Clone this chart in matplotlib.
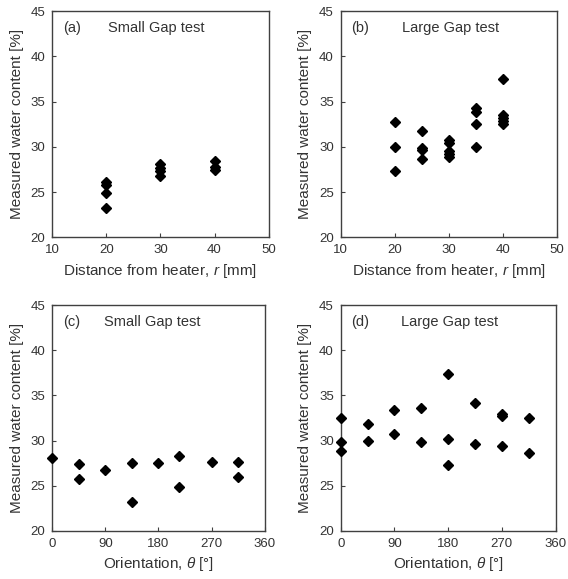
import matplotlib
matplotlib.use("Agg")
import matplotlib.pyplot as plt

plt.rcParams['font.family'] = ['Liberation Sans', 'DejaVu Sans']
plt.rcParams['mathtext.fontset'] = 'custom'
plt.rcParams['mathtext.it'] = 'Liberation Sans:italic'
plt.rcParams['mathtext.rm'] = 'Liberation Sans'

# (a) Small Gap test, water content vs distance
small_r = [20, 20, 20, 20, 30, 30, 30, 30, 40, 40, 40]
small_r_w = [26.1, 25.8, 24.9, 23.3, 28.1, 27.7, 27.3, 26.8, 28.4, 27.8, 27.4]

# (b) Large Gap test, water content vs distance
large_r = [20, 20, 20, 25, 25, 25, 25, 30, 30, 30, 30, 30,
           35, 35, 35, 35, 40, 40, 40, 40, 40]
large_r_w = [32.7, 30.0, 27.3, 31.8, 29.9, 29.6, 28.7, 30.7, 30.4, 29.5, 29.2, 28.9,
             34.3, 33.8, 32.5, 30.0, 37.5, 33.5, 33.2, 32.9, 32.5]

# (c) Small Gap test, water content vs orientation
small_t = [0, 45, 45, 90, 135, 135, 180, 215, 215, 270, 315, 315]
small_t_w = [28.1, 27.4, 25.7, 26.7, 27.5, 23.2, 27.5, 28.3, 24.9, 27.6, 27.6, 26.0]

# (d) Large Gap test, water content vs orientation
large_t = [0, 0, 0, 45, 45, 90, 90, 135, 135, 180, 180, 180,
           225, 225, 270, 270, 270, 315, 315]
large_t_w = [32.5, 29.9, 28.9, 31.8, 30.0, 33.4, 30.7, 33.6, 29.8, 37.4, 30.2, 27.3,
             34.2, 29.6, 32.9, 32.7, 29.4, 32.5, 28.6]

TEXT = '#333333'
SPINE = '#404040'

fig = plt.figure(figsize=(5.68, 5.79), dpi=100)
w, h = 0.381, 0.391
ax_a = fig.add_axes([0.092, 0.590, w, h])
ax_b = fig.add_axes([0.600, 0.590, w, h])
ax_c = fig.add_axes([0.092, 0.083, w - 0.007, h - 0.001])
ax_d = fig.add_axes([0.600, 0.083, w - 0.003, h - 0.001])

panels = [
    (ax_a, small_r, small_r_w, '(a)', 'Small Gap test', 0.257, 'r'),
    (ax_b, large_r, large_r_w, '(b)', 'Large Gap test', 0.281, 'r'),
    (ax_c, small_t, small_t_w, '(c)', 'Small Gap test', 0.243, 't'),
    (ax_d, large_t, large_t_w, '(d)', 'Large Gap test', 0.281, 't'),
]

for ax, x, y, tag, name, name_x, kind in panels:
    ax.plot(x, y, linestyle='none', marker='D', markersize=5.3,
            color='black', clip_on=False, zorder=3)
    ax.set_ylim(20, 45)
    ax.set_yticks([20, 25, 30, 35, 40, 45])
    if kind == 'r':
        ax.set_xlim(10, 50)
        ax.set_xticks([10, 20, 30, 40, 50])
        ax.set_xlabel('Distance from heater, $\\mathit{r}$ [mm]', fontsize=11,
                      color=TEXT, labelpad=4)
    else:
        ax.set_xlim(0, 360)
        ax.set_xticks([0, 90, 180, 270, 360])
        ax.set_xlabel('Orientation, $\\mathit{\\theta}$ [°]', fontsize=11,
                      color=TEXT, labelpad=4)
    ax.set_ylabel('Measured water content [%]', fontsize=11, color=TEXT, labelpad=5)
    ax.tick_params(direction='in', length=3, width=0.8, colors=SPINE,
                   labelcolor=TEXT, labelsize=9.5, pad=5)
    for s in ax.spines.values():
        s.set_color(SPINE)
        s.set_linewidth(1.0)
    ax.text(0.05, 0.925, tag, transform=ax.transAxes, fontsize=10.5,
            color=TEXT, va='center', ha='left')
    ax.text(name_x, 0.925, name, transform=ax.transAxes, fontsize=10.5,
            color=TEXT, va='center', ha='left')

fig.savefig('out.png', dpi=100)
